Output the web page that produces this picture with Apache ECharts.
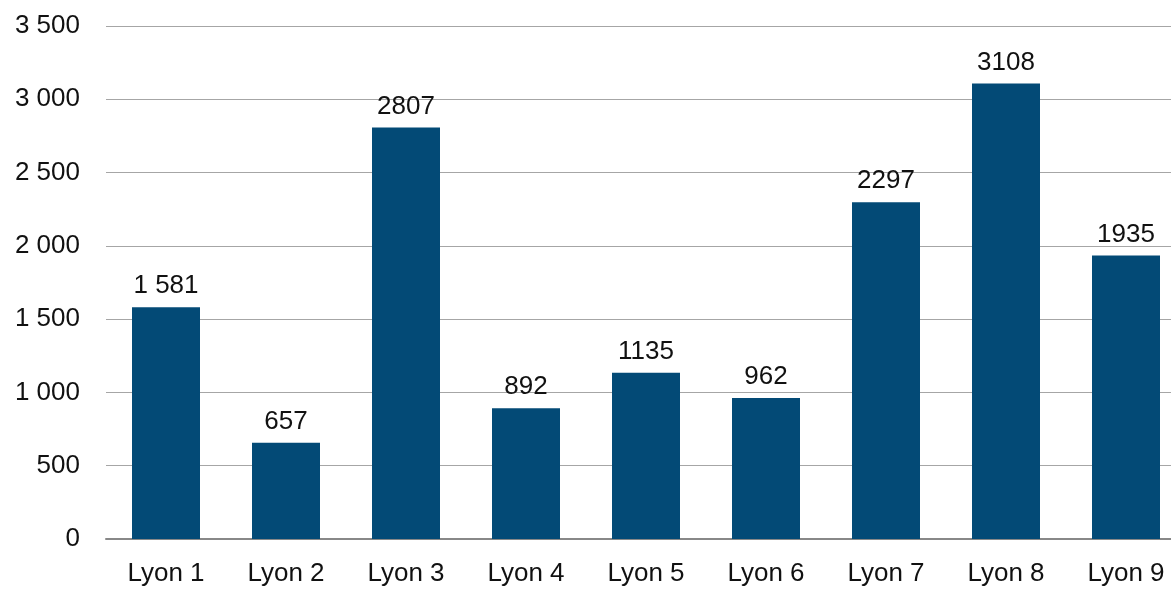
<!DOCTYPE html>
<html>
<head>
<meta charset="utf-8">
<script src="https://cdn.jsdelivr.net/npm/echarts@6/dist/echarts.min.js"></script>
<style>
  html, body { margin: 0; padding: 0; background: #fff; overflow: hidden; }
  /* plot runs past the right edge of the window, as in the source */
  #chart { width: 1186px; height: 592px; }
</style>
</head>
<body>
<div id="chart"></div>
<script>
// data
const categories = ['Lyon 1', 'Lyon 2', 'Lyon 3', 'Lyon 4', 'Lyon 5', 'Lyon 6', 'Lyon 7', 'Lyon 8', 'Lyon 9'];
const values = [1581, 657, 2807, 892, 1135, 962, 2297, 3108, 1935];
const valueLabels = ['1 581', '657', '2807', '892', '1135', '962', '2297', '3108', '1935'];

let myChart = echarts.init(document.getElementById('chart'));

let option = {
  backgroundColor: '#ffffff',
  animation: false,
  textStyle: { fontFamily: 'Liberation Sans, Arial, sans-serif' },
  grid: {
    left: 106,
    top: 26,
    bottom: 53,
    right: 0
  },
  xAxis: {
    type: 'category',
    data: categories,
    axisTick: { show: false },
    axisLine: { lineStyle: { color: '#888888', width: 2 } },
    axisLabel: { color: '#111', fontSize: 26, margin: 22 }
  },
  yAxis: {
    type: 'value',
    min: 0,
    max: 3500,
    interval: 500,
    axisLine: { show: false },
    axisTick: { show: false },
    splitLine: { lineStyle: { color: '#a6a6a6', width: 1 } },
    axisLabel: {
      color: '#111',
      fontSize: 26,
      margin: 26,
      // space as thousands separator
      formatter: v => String(v).replace(/\B(?=(\d{3})+(?!\d))/g, ' ')
    }
  },
  series: [{
    type: 'bar',
    data: values,
    barWidth: 68,
    itemStyle: { color: '#034a76' },
    label: {
      show: true,
      position: 'top',
      distance: 8,
      color: '#111',
      fontSize: 26,
      formatter: p => valueLabels[p.dataIndex]
    }
  }]
};
myChart.setOption(option);
window.onresize = function () {
  myChart.resize()
}
</script>
</body>
</html>
